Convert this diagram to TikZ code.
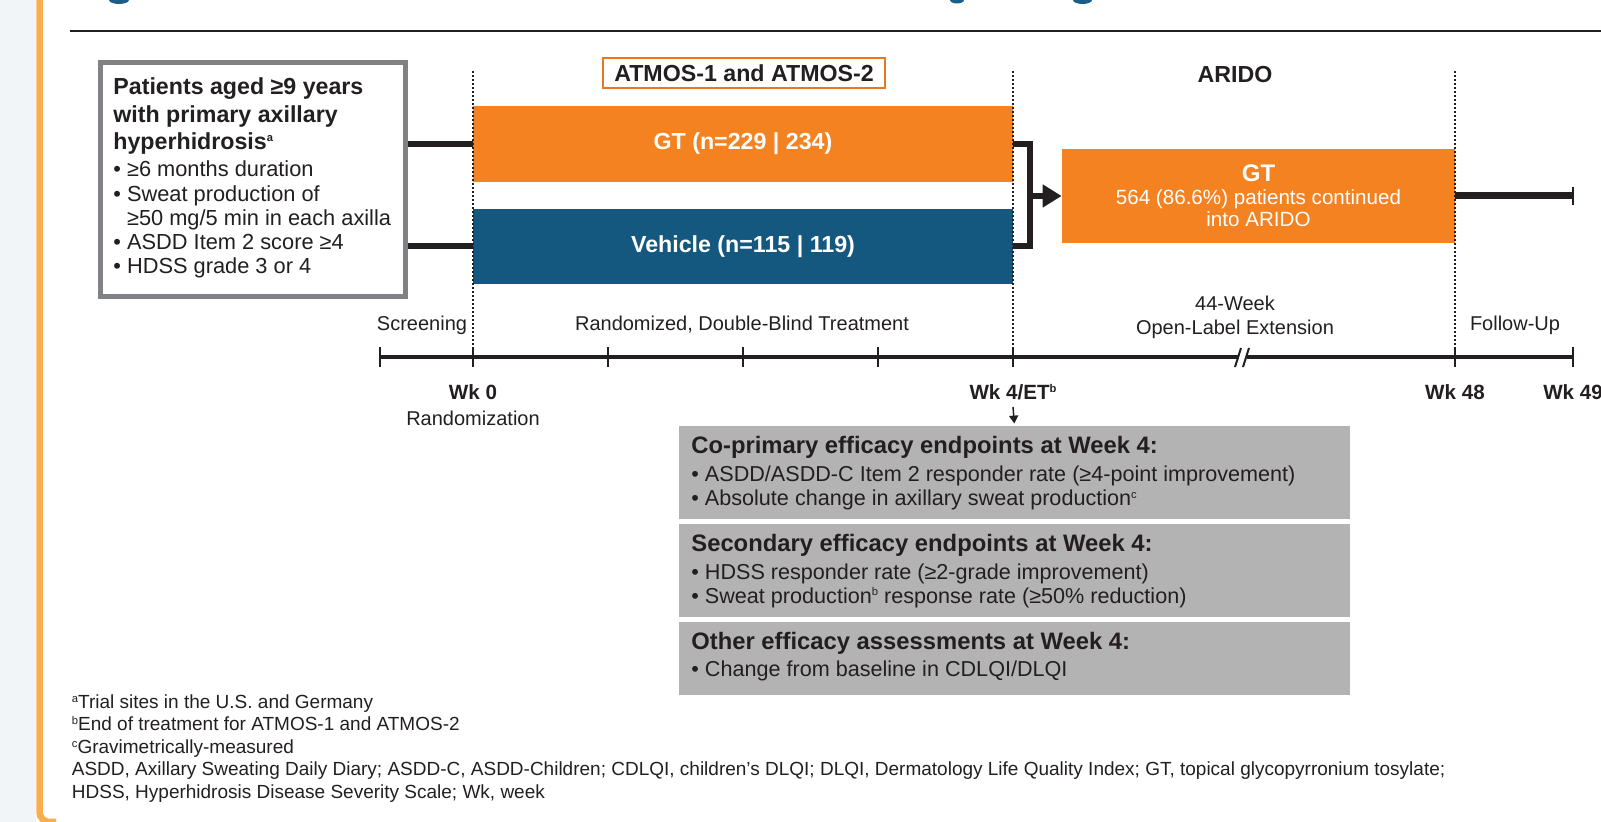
\documentclass[tikz,border=0pt]{standalone}
\usepackage{fontspec}
\setmainfont{Liberation Sans}
\usetikzlibrary{arrows.meta}
\definecolor{ink}{HTML}{231F20}
\definecolor{gtorange}{HTML}{F58220}
\definecolor{vehblue}{HTML}{15587F}
\definecolor{epgray}{HTML}{B3B3B3}
\definecolor{pgray}{HTML}{808285}
\definecolor{atmosorange}{HTML}{E87722}
\definecolor{sideorange}{HTML}{F9AE4E}
\definecolor{sidebg}{HTML}{F1F5F8}
\definecolor{titleblue}{HTML}{1B5E87}
\newcommand{\fPB}{\fontsize{11.6}{13.9}\selectfont\bfseries}
\newcommand{\fPR}{\fontsize{10.9}{13}\selectfont}
\newcommand{\fTL}{\fontsize{10}{12}\selectfont}
\newcommand{\fWK}{\fontsize{10.3}{12}\selectfont\bfseries}
\newcommand{\fEH}{\fontsize{11.9}{14}\selectfont\bfseries}
\newcommand{\fER}{\fontsize{10.8}{13}\selectfont}
\newcommand{\fFN}{\fontsize{9.5}{11}\selectfont}
\newcommand{\fGR}{\fontsize{10.3}{11.3}\selectfont}
\newcommand{\smsup}[2]{\raisebox{#1}{\fontsize{5.6}{6}\selectfont #2}}
\begin{document}
\begin{tikzpicture}[x=0.5pt,y=-0.5pt,
  txt/.style={inner sep=0pt,text=ink},
  conn/.style={draw=ink,line width=3pt},
  dotline/.style={draw=ink,line width=1pt,dash pattern=on 1pt off 1pt},
  tline/.style={draw=ink,line width=1.75pt},
  tick/.style={draw=ink,line width=1pt},
  bar/.style={inner sep=0pt,minimum width=270pt,text=white,font=\fPB},
  epbox/.style={fill=epgray,inner sep=0pt,minimum width=335.5pt},
]
\useasboundingbox (0,0) rectangle (1601,822);
% page frame
\fill[sidebg] (0,0) rectangle (36,822);
\draw[sideorange,line width=3.25pt] (39.5,-5) -- (39.5,812) arc (180:90:10) -- (56,822);
% cut-off title fragments
\fill[titleblue] (109,0) arc (180:0:10 and 4) -- cycle;
\fill[titleblue] (950,0) arc (180:0:7 and 3.5) -- cycle;
\fill[titleblue] (1073,0) arc (180:0:9.5 and 4) -- cycle;
\draw[ink,line width=1.4pt] (70,31) -- (1601,31);

% boxes
\node[draw=pgray,line width=2.5pt,fill=white,minimum width=152.5pt,minimum height=117pt,inner sep=0pt] (pbox) at (253,179.5) {};
\node[bar,fill=gtorange,minimum height=38pt] (gt) at (743,144) {GT (n=229 | 234)};
\node[bar,fill=vehblue,minimum height=37.5pt] (veh) at (743,246.5) {Vehicle (n=115 | 119)};
\node[draw=atmosorange,line width=1pt,fill=white,inner sep=0pt,minimum width=141pt,minimum height=15pt,font=\fPB,text=ink] (atmos) at (744,73.3) {ATMOS-1 and ATMOS-2};
\node[txt,font=\fPB,anchor=base] (arido) at (1235,83) {ARIDO};
\node[fill=gtorange,inner sep=0pt,minimum width=196.5pt,minimum height=47pt,text=white,align=center,font=\fGR] (ext) at (1258.5,196)
  {{\fontsize{12}{12}\selectfont\bfseries GT}\\564 (86.6\%) patients continued\\into ARIDO};
\node[epbox,minimum height=46.5pt] (ep1) at (1014.5,472.5) {};
\node[epbox,minimum height=46.75pt] (ep2) at (1014.5,570.75) {};
\node[epbox,minimum height=36.5pt] (ep3) at (1014.5,658.5) {};

% timeline coordinates
\coordinate (top) at (0,71);
\coordinate (tS) at (380,357);
\coordinate (t0) at (473,357);
\coordinate (t1) at (608,357);
\coordinate (t2) at (743,357);
\coordinate (t3) at (878,357);
\coordinate (t4) at (1013,357);
\coordinate (t48) at (1455,357);
\coordinate (t49) at (1573,357);
\coordinate (bkL) at (1238.5,357);
\coordinate (bkR) at (1246.5,357);

% dotted phase separators
\draw[dotline] (t0 |- top) -- (t0);
\draw[dotline] (t4 |- top) -- (t4);
\draw[dotline] (t48 |- top) -- (t48);

% connectors
\draw[conn] (pbox.east |- gt.west) -- (gt.west);
\draw[conn] (pbox.east |- veh.west) -- (veh.west);
\coordinate (brk) at ([xshift=8.5pt]gt.east |- ext.west);
\draw[conn] (gt.east) -| (brk) |- (veh.east);
\draw[conn,-{Triangle[length=9.5pt,width=11pt]}] (brk) -- (ext.west);
\coordinate (fuend) at (1573,196);
\draw[draw=ink,line width=3.5pt] (ext.east) -- (fuend);
\draw[tick] ([yshift=-4.5pt]fuend) -- ([yshift=4.5pt]fuend);

% timeline
\draw[tline] (tS) -- (bkL);
\draw[tline] (bkR) -- (t49);
\draw[tick] (1235,367) -- (1241,348);
\draw[tick] (1243,367) -- (1249,348);
\foreach \c in {tS,t0,t1,t2,t3,t4,t48,t49}
  \draw[tick] ([yshift=-5pt]\c) -- ([yshift=5pt]\c);

% phase labels
\node[txt,font=\fTL,anchor=base] (lscr) at (422,331) {Screening};
\node[txt,font=\fTL,anchor=base] (lrdb) at (742,331) {Randomized, Double-Blind Treatment};
\node[txt,font=\fTL,anchor=base] (l44) at (1235,311) {44-Week};
\node[txt,font=\fTL,anchor=base] (lole) at (1235,335) {Open-Label Extension};
\node[txt,font=\fTL,anchor=base] (lfu) at (1515,331) {Follow-Up};
\node[txt,font=\fWK,anchor=base] (wk0) at (473,400) {Wk 0};
\node[txt,font=\fTL,anchor=base] (rand) at (473,426) {Randomization};
\node[txt,font=\fWK,anchor=base] (wk4) at (1013,400) {Wk 4/ET\smsup{3.6pt}{b}};
\node[txt,font=\fWK,anchor=base] (wk48) at (1455,400) {Wk 48};
\node[txt,font=\fWK,anchor=base] (wk49) at (1573,400) {Wk 49};
\coordinate (wk4arr) at (1013,407);
\draw[ink,line width=0.75pt,-{Triangle[length=4pt,width=4.5pt]},shorten >=1pt] (wk4arr) -- (ep1.north);

% patient box text
\node[txt,font=\fPB,anchor=base west] (p1) at (113,95) {Patients aged ≥9 years};
\node[txt,font=\fPB,anchor=base west] (p2) at (113,122.7) {with primary axillary};
\node[txt,font=\fPB,anchor=base west] (p3) at (113,150) {hyperhidrosis\smsup{4pt}{\bfseries a}};
\node[txt,font=\fPR,anchor=base west] (p4) at (113,176.7) {• ≥6 months duration};
\node[txt,font=\fPR,anchor=base west] (p5) at (113,201.7) {• Sweat production of};
\node[txt,font=\fPR,anchor=base west] (p6) at (113,225.7) {\hphantom{•\ }≥50 mg/5 min in each axilla};
\node[txt,font=\fPR,anchor=base west] (p7) at (113,250) {• ASDD Item 2 score ≥4};
\node[txt,font=\fPR,anchor=base west] (p8) at (113,274) {• HDSS grade 3 or 4};

% endpoints text
\node[txt,font=\fEH,anchor=base west] (e11) at (691,453.3) {Co-primary efficacy endpoints at Week 4:};
\node[txt,font=\fER,anchor=base west] (e12) at (691,481.7) {• ASDD/ASDD-C Item 2 responder rate (≥4-point improvement)};
\node[txt,font=\fER,anchor=base west] (e13) at (691,506) {• Absolute change in axillary sweat production\smsup{3.8pt}{c}};
\node[txt,font=\fEH,anchor=base west] (e21) at (691,551.7) {Secondary efficacy endpoints at Week 4:};
\node[txt,font=\fER,anchor=base west] (e22) at (691,579.3) {• HDSS responder rate (≥2-grade improvement)};
\node[txt,font=\fER,anchor=base west] (e23) at (691,603.3) {• Sweat production\smsup{3.8pt}{b} response rate (≥50\% reduction)};
\node[txt,font=\fEH,anchor=base west] (e31) at (691,649.3) {Other efficacy assessments at Week 4:};
\node[txt,font=\fER,anchor=base west] (e32) at (691,676.7) {• Change from baseline in CDLQI/DLQI};

% footnotes
\node[txt,font=\fFN,anchor=base west] (f1) at (71.5,708.5) {\smsup{3.2pt}{a}Trial sites in the U.S. and Germany};
\node[txt,font=\fFN,anchor=base west] (f2) at (71.5,731) {\smsup{3.2pt}{b}End of treatment for ATMOS-1 and ATMOS-2};
\node[txt,font=\fFN,anchor=base west] (f3) at (71.5,753.5) {\smsup{3.2pt}{c}Gravimetrically-measured};
\node[txt,font=\fFN,anchor=base west] (f4) at (71.5,776) {ASDD, Axillary Sweating Daily Diary; ASDD-C, ASDD-Children; CDLQI, children’s DLQI; DLQI, Dermatology Life Quality Index; GT, topical glycopyrronium tosylate;};
\node[txt,font=\fFN,anchor=base west] (f5) at (71.5,798.5) {HDSS, Hyperhidrosis Disease Severity Scale; Wk, week};
\end{tikzpicture}
\end{document}
